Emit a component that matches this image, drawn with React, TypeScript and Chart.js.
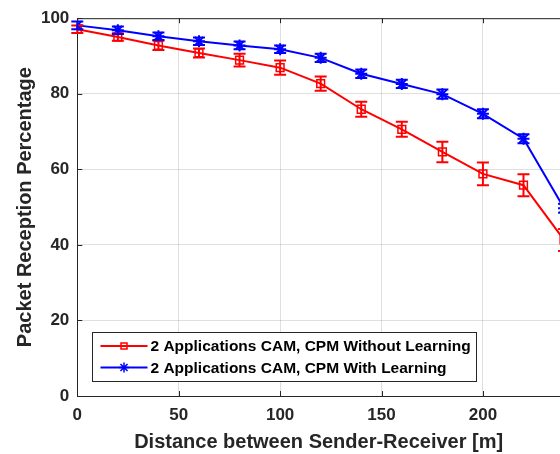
import React, { useEffect, useRef } from "react";
import { Chart, registerables } from "chart.js";

Chart.register(...registerables);

// ---- data ----
const distances = [0, 20, 40, 60, 80, 100, 120, 140, 160, 180, 200, 220, 240];
const withoutLearning = [97.1, 95.0, 92.8, 90.8, 88.9, 86.9, 82.7, 75.9, 70.6, 64.6, 58.8, 55.8, 41.3];
const withoutLearningErr = [1.0, 1.0, 1.2, 1.2, 1.7, 1.9, 1.9, 2.0, 2.0, 2.7, 3.0, 2.9, 2.9];
const withLearning = [98.1, 96.8, 95.2, 93.9, 92.8, 91.8, 89.5, 85.3, 82.6, 79.9, 74.7, 68.1, 49.7];
const withLearningErr = [1.0, 1.0, 1.0, 1.0, 1.0, 1.0, 1.1, 1.1, 1.1, 1.2, 1.2, 1.2, 1.2];
const xTicks = [0, 50, 100, 150, 200];
const yTicks = [0, 20, 40, 60, 80, 100];
const seriesLabels = [
  "2 Applications CAM, CPM Without Learning",
  "2 Applications CAM, CPM With Learning",
];
const xTitle = "Distance between Sender-Receiver [m]";
const yTitle = "Packet Reception Percentage";

const FONT = '"Liberation Sans", Arial, Helvetica, sans-serif';
const AXIS = "#262626";
const GRID = "rgba(38,38,38,0.15)";
const RED = "#ff0000";
const BLUE = "#0000ff";

const errorSets = [withoutLearningErr, withLearningErr];
const valueSets = [withoutLearning, withLearning];
const colors = [RED, BLUE];

const errorBarPlugin = {
  id: "errorBars",
  afterDatasetsDraw(chart: any) {
    const ctx = chart.ctx;
    const xs = chart.scales.x;
    const ys = chart.scales.y;
    ctx.save();
    ctx.lineWidth = 2;
    valueSets.forEach((vals, i) => {
      ctx.strokeStyle = colors[i];
      vals.forEach((v, j) => {
        const e = errorSets[i][j];
        const px = xs.getPixelForValue(distances[j]);
        const pt = ys.getPixelForValue(v + e);
        const pb = ys.getPixelForValue(v - e);
        const cap = 6;
        ctx.beginPath();
        ctx.moveTo(px, pt);
        ctx.lineTo(px, pb);
        ctx.moveTo(px - cap, pt);
        ctx.lineTo(px + cap, pt);
        ctx.moveTo(px - cap, pb);
        ctx.lineTo(px + cap, pb);
        ctx.stroke();
      });
    });
    ctx.restore();
  },
};

function drawSquare(ctx: any, x: number, y: number, s: number) {
  ctx.beginPath();
  ctx.rect(x - s / 2, y - s / 2, s, s);
  ctx.stroke();
}
function drawStar(ctx: any, x: number, y: number, r: number) {
  ctx.beginPath();
  ctx.moveTo(x, y - r);
  ctx.lineTo(x, y + r);
  ctx.moveTo(x - r, y);
  ctx.lineTo(x + r, y);
  const d = r * Math.SQRT1_2;
  ctx.moveTo(x - d, y - d);
  ctx.lineTo(x + d, y + d);
  ctx.moveTo(x - d, y + d);
  ctx.lineTo(x + d, y - d);
  ctx.stroke();
}

const framePlugin = {
  id: "frame",
  afterDraw(chart: any) {
    const ctx = chart.ctx;
    const a = chart.chartArea;
    const xs = chart.scales.x;
    const ys = chart.scales.y;
    ctx.save();
    ctx.strokeStyle = AXIS;
    ctx.lineWidth = 1;
    ctx.beginPath();
    ctx.moveTo(a.left, a.top + 0.5);
    ctx.lineTo(a.right, a.top + 0.5);
    xTicks.forEach((v) => {
      const px = Math.round(xs.getPixelForValue(v)) + 0.5;
      ctx.moveTo(px, a.bottom);
      ctx.lineTo(px, a.bottom - 5);
      ctx.moveTo(px, a.top);
      ctx.lineTo(px, a.top + 5);
    });
    yTicks.forEach((v) => {
      const py = Math.round(ys.getPixelForValue(v)) + 0.5;
      ctx.moveTo(a.left, py);
      ctx.lineTo(a.left + 5, py);
    });
    ctx.stroke();

    // legend
    ctx.font = `bold 15.5px ${FONT}`;
    const textW = Math.max(...seriesLabels.map((l) => ctx.measureText(l).width));
    const bh = 49;
    const bx = Math.round(a.left + 14.7) + 0.5;
    const by = Math.round(a.bottom - 15 - bh) + 0.5;
    const bw = Math.round(58 + textW + 6);
    ctx.fillStyle = "#ffffff";
    ctx.fillRect(bx, by, bw, bh);
    ctx.strokeStyle = AXIS;
    ctx.lineWidth = 1;
    ctx.strokeRect(bx, by, bw, bh);
    const rows = [by + 13.5, by + 35];
    seriesLabels.forEach((label, i) => {
      const y = rows[i];
      ctx.strokeStyle = colors[i];
      ctx.lineWidth = 2;
      ctx.beginPath();
      ctx.moveTo(bx + 8, y);
      ctx.lineTo(bx + 55, y);
      ctx.stroke();
      ctx.lineWidth = 1.5;
      if (i === 0) drawSquare(ctx, bx + 31.5, y, 6);
      else drawStar(ctx, bx + 31.5, y, 5);
      ctx.fillStyle = "#000000";
      ctx.textBaseline = "middle";
      ctx.textAlign = "left";
      ctx.fillText(label, bx + 58, y + 1);
    });
    ctx.restore();
  },
};

export default function App() {
  const ref = useRef<HTMLCanvasElement | null>(null);
  useEffect(() => {
    if (!ref.current) return;
    Chart.defaults.font.family = FONT;
    const chart = new Chart(ref.current, {
      type: "line",
      data: {
        datasets: [
          {
            label: seriesLabels[0],
            data: distances.map((d, i) => ({ x: d, y: withoutLearning[i] })),
            borderColor: RED,
            borderWidth: 2,
            pointStyle: "rect",
            pointRadius: 5.5,
            pointBorderWidth: 1.5,
            pointBorderColor: RED,
            pointBackgroundColor: "rgba(0,0,0,0)",
            fill: false,
            tension: 0,
            order: 1,
          },
          {
            label: seriesLabels[1],
            data: distances.map((d, i) => ({ x: d, y: withLearning[i] })),
            borderColor: BLUE,
            borderWidth: 2,
            pointStyle: "star",
            pointRadius: 6,
            pointBorderWidth: 2,
            pointBorderColor: BLUE,
            pointBackgroundColor: BLUE,
            fill: false,
            tension: 0,
            order: 0,
          },
        ],
      },
      options: {
        responsive: false,
        animation: false,
        devicePixelRatio: 1,
        layout: { autoPadding: false, padding: { top: 16.5, right: 0, bottom: 0, left: 0 } },
        plugins: { legend: { display: false }, tooltip: { enabled: false } },
        scales: {
          x: {
            type: "linear",
            min: 0,
            max: 238,
            afterFit: (s: any) => {
              s.height = 58;
            },
            afterBuildTicks: (s: any) => {
              s.ticks = xTicks.map((v) => ({ value: v }));
            },
            grid: { color: GRID, lineWidth: 1, drawTicks: false },
            border: { color: AXIS, width: 1 },
            ticks: {
              color: AXIS,
              font: { size: 17, weight: "bold" },
              padding: 9,
              maxRotation: 0,
              autoSkip: false,
              includeBounds: false,
            },
            title: {
              display: true,
              text: xTitle,
              color: AXIS,
              font: { size: 20, weight: "bold" },
              padding: { top: 0, bottom: 0 },
            },
          },
          y: {
            type: "linear",
            min: 0,
            max: 100,
            afterFit: (s: any) => {
              s.width = 77.3;
            },
            afterBuildTicks: (s: any) => {
              s.ticks = yTicks.map((v) => ({ value: v }));
            },
            grid: { color: GRID, lineWidth: 1, drawTicks: false },
            border: { color: AXIS, width: 1 },
            ticks: {
              color: AXIS,
              font: { size: 17, weight: "bold" },
              padding: 8,
            },
            title: {
              display: true,
              text: yTitle,
              color: AXIS,
              font: { size: 20, weight: "bold" },
              padding: { top: 13, bottom: 0 },
            },
          },
        },
      },
      plugins: [errorBarPlugin, framePlugin],
    } as any);
    return () => chart.destroy();
  }, []);
  return (
    <div style={{ position: "fixed", left: 0, top: 0, width: 560, height: 454, overflow: "hidden", background: "#fff" }}>
      <canvas ref={ref} width={560} height={454} style={{ display: "block" }} />
    </div>
  );
}
